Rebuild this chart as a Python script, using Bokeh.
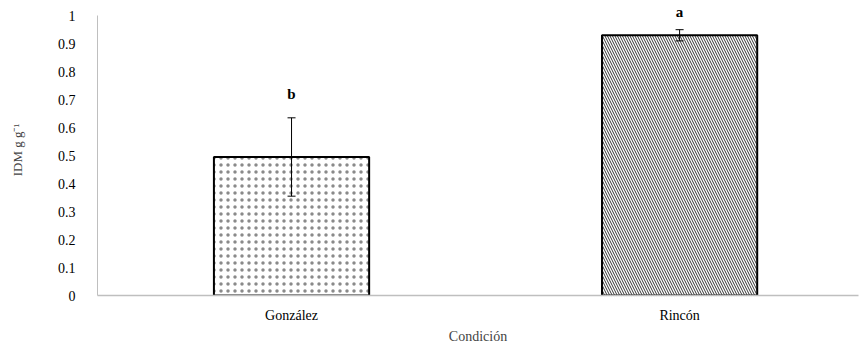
from bokeh.plotting import figure
from bokeh.models import Range1d, FixedTicker, ColumnDataSource, Whisker, LabelSet
from bokeh.embed import file_html
from bokeh.resources import INLINE

categories = ["González", "Rincón"]
means = [0.495, 0.93]
errors = [0.14, 0.02]
letters = ["b", "a"]
letter_y = [0.72, 1.012]
y_ticks = [0, 0.1, 0.2, 0.3, 0.4, 0.5, 0.6, 0.7, 0.8, 0.9, 1]
y_tick_labels = ["0", "0.1", "0.2", "0.3", "0.4", "0.5", "0.6", "0.7", "0.8", "0.9", "1"]

xpos = list(range(len(categories)))
serif = "Liberation Serif"

p = figure(width=859, height=346, output_backend="svg", toolbar_location=None,
           x_range=Range1d(-0.5, 1.461), y_range=Range1d(0, 1.04),
           min_border_left=97, min_border_right=1, min_border_top=4, min_border_bottom=50)
p.outline_line_color = None
p.grid.visible = False
p.background_fill_color = "white"

patterns = ["dot", "left_diagonal_line"]
scales = [7, 5]
hcolors = ["#8a8a8a", "#333333"]
for i in range(len(categories)):
    p.vbar(x=[xpos[i]], top=[means[i]], bottom=0, width=0.4,
           fill_color="white", line_color="black", line_width=2,
           hatch_pattern=patterns[i], hatch_color=hcolors[i], hatch_scale=scales[i], hatch_weight=1)

src = ColumnDataSource(dict(x=xpos, upper=[m + e for m, e in zip(means, errors)],
                            lower=[m - e for m, e in zip(means, errors)]))
w = Whisker(source=src, base="x", upper="upper", lower="lower", line_color="black",
            line_width=1, level="overlay")
w.upper_head.size = 8
w.lower_head.size = 8
w.upper_head.line_color = "black"
w.lower_head.line_color = "black"
p.add_layout(w)

lsrc = ColumnDataSource(dict(x=xpos, y=letter_y, t=letters))
labels = LabelSet(x="x", y="y", text="t", source=lsrc, text_font=serif, text_font_style="bold",
                  text_font_size="15px", text_align="center", text_baseline="middle", text_color="black")
p.add_layout(labels)

# axes
p.yaxis.ticker = FixedTicker(ticks=y_ticks)
p.yaxis.bounds = (y_ticks[0], y_ticks[-1])
p.yaxis.major_label_overrides = {t: l for t, l in zip(y_ticks, y_tick_labels)}
p.yaxis.major_tick_line_color = None
p.yaxis.minor_tick_line_color = None
p.yaxis.axis_line_color = "#bfbfbf"
p.yaxis.major_label_text_font = serif
p.yaxis.major_label_text_font_size = "14px"
p.yaxis.major_label_text_color = "black"
p.yaxis.major_label_standoff = 16
p.yaxis.axis_label = "IDM g g⁻¹"
p.yaxis.axis_label_text_font = serif
p.yaxis.axis_label_text_font_style = "normal"
p.yaxis.axis_label_text_font_size = "13px"
p.yaxis.axis_label_standoff = 30

p.xaxis.ticker = FixedTicker(ticks=xpos)
p.xaxis.major_label_overrides = {x: c for x, c in zip(xpos, categories)}
p.xaxis.major_tick_line_color = None
p.xaxis.minor_tick_line_color = None
p.xaxis.axis_line_color = "#bfbfbf"
p.xaxis.axis_line_width = 1.5
p.xaxis.major_label_text_font = serif
p.xaxis.major_label_text_font_size = "14px"
p.xaxis.major_label_text_color = "black"
p.xaxis.major_label_standoff = 6
p.xaxis.axis_label = "Condición"
p.xaxis.axis_label_text_font = serif
p.xaxis.axis_label_text_font_style = "normal"
p.xaxis.axis_label_text_font_size = "14px"
p.xaxis.axis_label_standoff = 3

open("out.html", "w").write(file_html(p, INLINE))
